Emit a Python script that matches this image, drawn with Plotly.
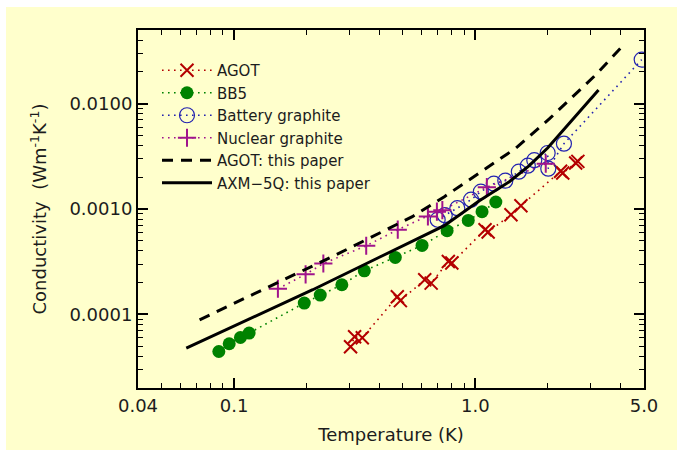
import math
import plotly.graph_objects as go

# Thermal conductivity of graphite samples, temperature in K, k in W m^-1 K^-1
agot_T = [0.304, 0.316, 0.340, 0.475, 0.489, 0.617, 0.656, 0.773, 0.799,
          1.097, 1.130, 1.405, 1.545, 2.256, 2.303, 2.605, 2.660]
agot_k = [4.92e-5, 6.13e-5, 6.00e-5, 1.47e-4, 1.35e-4, 2.13e-4, 1.98e-4, 3.18e-4, 3.07e-4,
          6.36e-4, 6.05e-4, 8.83e-4, 1.075e-3, 2.28e-3, 2.20e-3, 2.73e-3, 2.83e-3]

bb5_T = [0.0865, 0.0955, 0.1063, 0.1155, 0.1955, 0.2277, 0.2798, 0.3467, 0.4659,
         0.6015, 0.764, 0.9346, 1.066, 1.216]
bb5_k = [4.44e-5, 5.26e-5, 6.03e-5, 6.64e-5, 1.28e-4, 1.525e-4, 1.91e-4, 2.59e-4, 3.47e-4,
         4.51e-4, 6.22e-4, 7.79e-4, 9.43e-4, 1.165e-3]

battery_T = [0.698, 0.747, 0.842, 0.960, 1.054, 1.193, 1.331, 1.514, 1.650, 1.755,
             1.994, 2.006, 2.329, 4.89]
battery_k = [7.91e-4, 8.73e-4, 1.018e-3, 1.226e-3, 1.46e-3, 1.739e-3, 1.857e-3, 2.26e-3,
             2.577e-3, 2.906e-3, 3.40e-3, 2.414e-3, 4.17e-3, 2.617e-2]

nuclear_T = [0.152, 0.198, 0.2345, 0.353, 0.477, 0.636, 0.693, 0.730, 1.116, 1.958]
nuclear_k = [1.75e-4, 2.40e-4, 3.04e-4, 4.48e-4, 6.36e-4, 8.50e-4, 9.43e-4, 9.74e-4,
             1.61e-3, 2.69e-3]

# Fits from this work
agot_fit_T = [0.072, 0.265, 0.548, 0.744, 1.039, 1.474, 2.025, 3.16, 4.18]
agot_fit_k = [8.88e-5, 3.68e-4, 8.45e-4, 1.308e-3, 2.197e-3, 3.795e-3, 7.16e-3, 1.885e-2, 3.753e-2]

axm_fit_T = [0.0634, 0.212, 0.400, 0.744, 1.039, 1.383, 1.673, 1.993, 3.24]
axm_fit_k = [4.79e-5, 1.713e-4, 3.485e-4, 6.94e-4, 1.199e-3, 1.816e-3, 2.577e-3, 3.79e-3, 1.349e-2]

x_ticks = [0.04, 0.1, 1.0, 5.0]
x_tick_text = ["0.04", "0.1", "1.0", "5.0"]
y_ticks = [1e-4, 1e-3, 1e-2]
y_tick_text = ["0.0001", "0.0010", "0.0100"]

x_range = (0.04, 5.0)
y_range = (2e-5, 5e-2)

BG = "#FFFFCC"
INK = "#1c1c1c"
FONT = "DejaVu Sans"
DOTS = "1.6px,4.4px"


def minor_ticks(lo, hi):
    vals = []
    for e in range(-6, 2):
        for m in range(2, 10):
            v = m * 10.0 ** e
            if lo * 1.0001 < v < hi * 0.9999:
                vals.append(v)
    return vals


fig = go.Figure()

fig.add_trace(go.Scatter(
    x=agot_T, y=agot_k, name="AGOT", mode="lines+markers",
    line=dict(color="#B40000", width=1.6, dash=DOTS),
    marker=dict(symbol="x-thin", size=13, line=dict(color="#B40000", width=2)),
))
fig.add_trace(go.Scatter(
    x=bb5_T, y=bb5_k, name="BB5", mode="lines+markers",
    line=dict(color="#008200", width=1.6, dash=DOTS),
    marker=dict(symbol="circle", size=13, color="#008200"),
))
fig.add_trace(go.Scatter(
    x=battery_T, y=battery_k, name="Battery graphite", mode="lines+markers",
    line=dict(color="#2222B0", width=1.6, dash=DOTS),
    marker=dict(symbol="circle-open", size=15, color="#2222B0",
                line=dict(color="#2222B0", width=1.2)),
))
fig.add_trace(go.Scatter(
    x=nuclear_T, y=nuclear_k, name="Nuclear graphite", mode="lines+markers",
    line=dict(color="#A0148C", width=1.6, dash=DOTS),
    marker=dict(symbol="cross-thin", size=13, line=dict(color="#A0148C", width=2)),
))
fig.add_trace(go.Scatter(
    x=agot_fit_T, y=agot_fit_k, name="AGOT: this paper", mode="lines",
    line=dict(color="black", width=3, dash="11px,8px"),
))
fig.add_trace(go.Scatter(
    x=axm_fit_T, y=axm_fit_k, name="AXM\u22125Q: this paper", mode="lines",
    line=dict(color="black", width=3),
))

axis_common = dict(
    type="log",
    automargin=False,
    showline=True, linecolor="black", linewidth=2,
    mirror="allticks",
    ticks="inside", ticklen=10, tickwidth=1.5, tickcolor="black",
    showgrid=False, zeroline=False,
    tickfont=dict(family=FONT, size=18, color=INK),
)

fig.update_xaxes(
    **axis_common,
    range=[math.log10(x_range[0]), math.log10(x_range[1])],
    tickmode="array", tickvals=x_ticks, ticktext=x_tick_text,
    minor=dict(ticks="inside", ticklen=5, tickwidth=1.2, tickcolor="black",
               tickmode="array", tickvals=minor_ticks(*x_range)),
    title=dict(text="Temperature (K)", font=dict(family=FONT, size=18, color=INK),
               standoff=14),
)
fig.update_yaxes(
    **axis_common,
    range=[math.log10(y_range[0]), math.log10(y_range[1])],
    tickmode="array", tickvals=y_ticks, ticktext=y_tick_text,
    minor=dict(ticks="inside", ticklen=5, tickwidth=1.2, tickcolor="black",
               tickmode="array", tickvals=minor_ticks(*y_range)),
    title=dict(text="Conductivity  (Wm<sup>-1</sup>K<sup>-1</sup>)",
               font=dict(family=FONT, size=18, color=INK), standoff=18),
)

# page background with a thin white border along the top and left edges
L, T, W, H = 138, 30, 506, 358
fig.add_shape(
    type="rect", xref="paper", yref="paper", layer="below",
    x0=(6 - L) / W, x1=(677 - L) / W,
    y0=-(450 - T - H) / H, y1=(T + H - 7) / H,
    fillcolor=BG, line=dict(width=0),
)

fig.update_layout(
    width=677, height=450,
    margin=dict(l=L, r=677 - L - W, t=T, b=450 - T - H, pad=0),
    paper_bgcolor="white", plot_bgcolor=BG,
    font=dict(family=FONT, color=INK),
    showlegend=True,
    legend=dict(
        x=(157 - L) / W, y=(T + H - 54) / H, xanchor="left", yanchor="top",
        bgcolor="rgba(0,0,0,0)", borderwidth=0,
        font=dict(family=FONT, size=15, color=INK),
        itemwidth=50, tracegroupgap=0,
    ),
)

fig.write_html("out.html")
